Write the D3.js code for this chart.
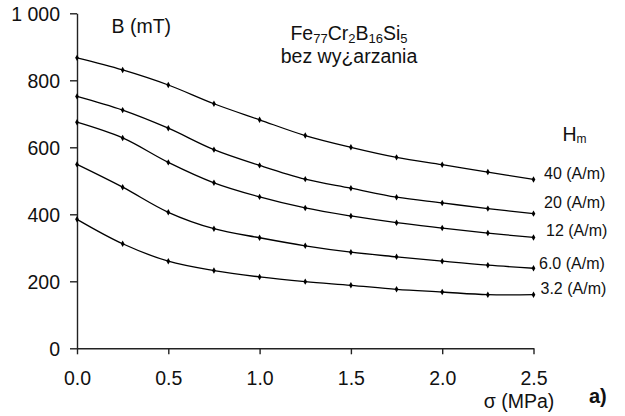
<!DOCTYPE html>
<html>
<head>
<meta charset="utf-8">
<script src="https://cdn.jsdelivr.net/npm/d3@7"></script>
<style>
  body { margin: 0; background: #fff; }
  text { font-family: "Liberation Sans", Arial, sans-serif; fill: #111; }
</style>
</head>
<body>
<svg id="chart" width="625" height="416"></svg>
<script>
// stress values (MPa)
const sigma = [0, 0.25, 0.5, 0.75, 1.0, 1.25, 1.5, 1.75, 2.0, 2.25, 2.5];

// B (mT) for each Hm
const hmLabels = ["40 (A/m)", "20 (A/m)", "12 (A/m)", "6.0 (A/m)", "3.2 (A/m)"];
const b40 = [867, 831, 786, 730, 682, 635, 600, 570, 548, 526, 504];
const b20 = [752, 711, 657, 593, 546, 505, 478, 451, 434, 417, 402];
const b12 = [675, 628, 555, 494, 452, 419, 395, 375, 359, 344, 331];
const b6 = [549, 481, 406, 357, 330, 306, 287, 273, 260, 248, 239];
const b3 = [385, 312, 260, 232, 213, 199, 188, 176, 168, 160, 160];
const series = [b40, b20, b12, b6, b3];

const xTicks = [0, 0.5, 1.0, 1.5, 2.0, 2.5];
const yTicks = [0, 200, 400, 600, 800, 1000];

const svg = d3.select("#chart");

const x = d3.scaleLinear().domain([0, 2.5]).range([77, 533.5]);
const y = d3.scaleLinear().domain([0, 1000]).range([348.3, 13.3]);

// axes
const xAxis = svg.append("g")
    .attr("transform", `translate(0, ${y(0)})`)
    .call(d3.axisBottom(x).tickValues(xTicks).tickSize(6).tickSizeOuter(0)
        .tickFormat(d3.format(".1f")));
xAxis.selectAll("text").attr("font-size", 19.5).attr("y", 37).attr("dy", 0);

const yAxis = svg.append("g")
    .attr("transform", `translate(${x(0)}, 0)`)
    .call(d3.axisLeft(y).tickValues(yTicks).tickSize(7).tickSizeOuter(0)
        .tickFormat(d => d >= 1000 ? d3.format(",")(d).replace(",", " ") : d));
yAxis.selectAll("text").attr("font-size", 19.5).attr("x", -17).attr("dy", "0.38em");

svg.selectAll(".domain, .tick line").attr("stroke", "#222").attr("stroke-width", 1.4);
svg.selectAll(".tick text").attr("fill", "#111");

// curves
const line = d3.line()
    .x((d, i) => x(sigma[i]))
    .y(d => y(d))
    .curve(d3.curveCatmullRom.alpha(0.5));

const marker = d3.symbol().type(d3.symbolDiamond).size(12);

// label nudges relative to the last point of each curve
const nudgeX = [10.5, 10.5, 12.5, 5.5, 7];
const nudgeY = [-6.5, -11, -6.7, -5, -6];

series.forEach((vals, k) => {
    svg.append("path")
        .datum(vals)
        .attr("d", line)
        .attr("fill", "none")
        .attr("stroke", "#000")
        .attr("stroke-width", 1.3);

    svg.selectAll(null)
        .data(vals)
        .enter()
        .append("path")
        .attr("d", marker)
        .attr("transform", (d, i) => `translate(${x(sigma[i])}, ${y(d)})`)
        .attr("fill", "#000");

    const last = vals[vals.length - 1];
    svg.append("text")
        .attr("x", x(2.5) + nudgeX[k])
        .attr("y", y(last) + nudgeY[k])
        .attr("dy", "0.35em")
        .attr("font-size", 16)
        .text(hmLabels[k]);
});

// labels
svg.append("text")
    .attr("x", 111.5).attr("y", 32.5)
    .attr("font-size", 19.5)
    .text("B (mT)");

const title = svg.append("text")
    .attr("x", 349).attr("y", 40)
    .attr("text-anchor", "middle")
    .attr("font-size", 19.5);
[["Fe", false], ["77", true], ["Cr", false], ["2", true], ["B", false], ["16", true], ["Si", false], ["5", true]]
    .forEach(([t, sub]) => {
        title.append("tspan")
            .attr("font-size", sub ? 13 : 19.5)
            .attr("dy", sub ? 3 : (t === "Fe" ? 0 : -3))
            .text(t);
    });

svg.append("text")
    .attr("x", 349).attr("y", 63)
    .attr("text-anchor", "middle")
    .attr("font-size", 19.5)
    .text("bez wy¿arzania");

const hm = svg.append("text")
    .attr("x", 562.5).attr("y", 141)
    .attr("font-size", 19.5);
hm.append("tspan").text("H");
hm.append("tspan").attr("font-size", 12).attr("dy", 2).text("m");

svg.append("text")
    .attr("x", 519).attr("y", 408)
    .attr("text-anchor", "middle")
    .attr("font-size", 19.5)
    .text("σ (MPa)");

svg.append("text")
    .attr("x", 589).attr("y", 403)
    .attr("font-size", 20)
    .attr("font-weight", "bold")
    .text("a)");
</script>
</body>
</html>
